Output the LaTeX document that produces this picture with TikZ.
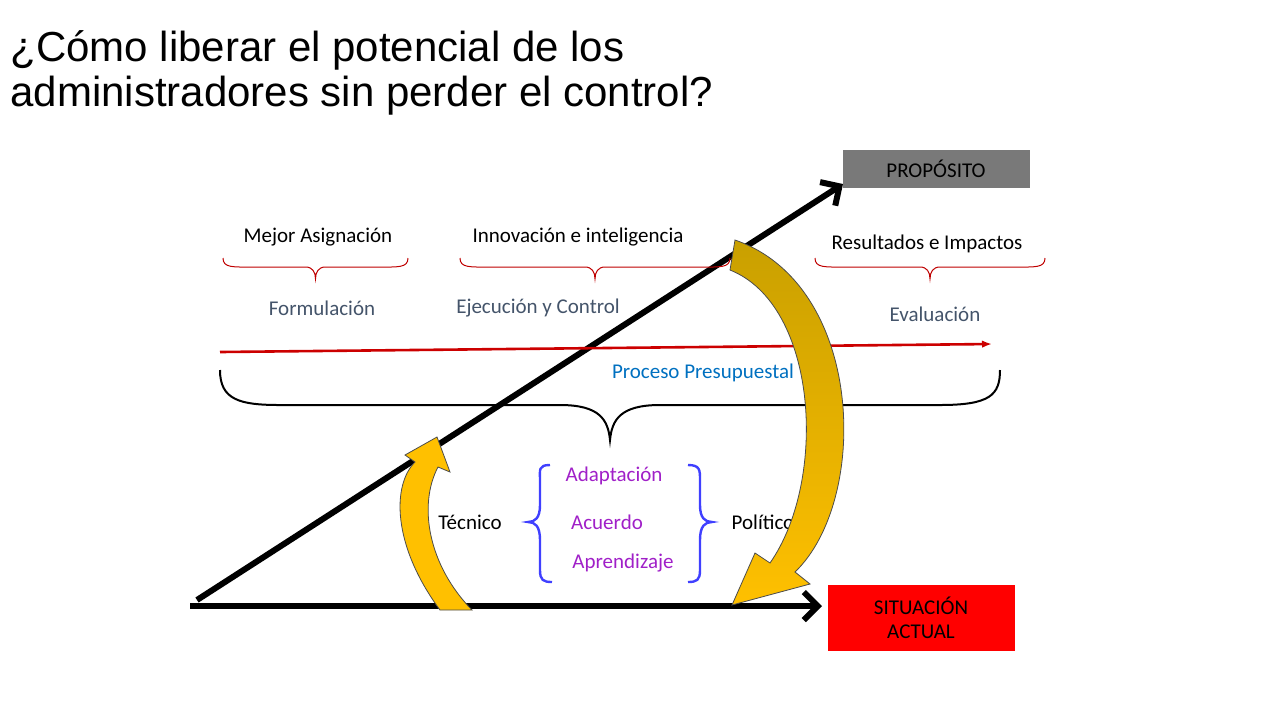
\documentclass[tikz,border=0pt]{standalone}
\usepackage{fontspec}
\setmainfont{Carlito}
\newfontfamily\titlefont{Liberation Sans}
\usetikzlibrary{arrows.meta,positioning}
\definecolor{gristexto}{HTML}{44546A}
\definecolor{azulproc}{HTML}{0070C0}
\definecolor{morado}{HTML}{A020C8}
\definecolor{oro}{HTML}{FFC000}
\definecolor{ororojo}{HTML}{C9A000}
\begin{document}
\begin{tikzpicture}[x=0.5pt,y=-0.5pt,
    etiqueta/.style={font=\fontsize{10.5}{12}\selectfont},
    fase/.style={etiqueta,text=gristexto},
    trampa/.style={etiqueta,text=morado},
    flecha/.style={line width=3pt,-{Straight Barb[length=7pt,width=14pt,line width=3pt]}},
    curva/.style={draw=black!70,line width=0.4pt}]
    \useasboundingbox (0,0) rectangle (1280,720);
    % titulo
    \node[anchor=north west,align=left,inner sep=0pt,font=\titlefont\fontsize{21}{22.5}\selectfont] (titulo) at (10,30)
        {¿Cómo liberar el potencial de los\\administradores sin perder el control?};
    % cajas
    \node[fill=gray!95!black,minimum width=93.5pt,minimum height=19pt,inner sep=0pt,etiqueta] (proposito) at (936,169) {PROPÓSITO};
    \node[fill=red,minimum width=93.5pt,minimum height=33pt,inner sep=0pt,align=center,etiqueta] (actual) at (921,618) {SITUACIÓN\\ACTUAL};
    % ejes
    \coordinate (origen) at (197,600);
    \coordinate (base) at (190,606);
    \draw[flecha] (origen) -- (843,184);
    \draw[flecha] (base) -- (822,606);
    % linea de tiempo
    \coordinate (inicio) at (220,352);
    \draw[red!80!black,line width=1.3pt,-{Latex[length=5pt]}] (inicio) -- (992,344);
    % llave grande
    \draw[line width=1pt] (220,370) .. controls (220,400) and (240,405) .. (280,405) -- (560,405)
        .. controls (600,405) and (608,420) .. (610,440) .. controls (612,420) and (620,405) .. (660,405)
        -- (940,405) .. controls (990,405) and (1000,395) .. (1000,370);
    % llaves rojas
    \foreach \a/\b in {223/408,460/730,815/1045}{
        \pgfmathsetmacro\m{(\a+\b)/2}
        \draw[red!75!black,line width=0.5pt] (\a,258) .. controls (\a,268) and (\a+10,267) .. (\a+30,267) -- (\m-10,267)
            .. controls (\m-3,267) and (\m,272) .. (\m,279) .. controls (\m,272) and (\m+3,267) .. (\m+10,267)
            -- (\b-30,267) .. controls (\b-10,267) and (\b,268) .. (\b,258);
    }
    % textos
    \node[etiqueta] (mejor) at (318,237) {Mejor Asignación};
    \node[etiqueta] (innova) at (578,237) {Innovación e inteligencia};
    \node[etiqueta] (result) at (927,244) {Resultados e Impactos};
    \node[fase] (formula) at (322,308) {Formulación};
    \node[fase] (ejecuta) at (538,308) {Ejecución y Control};
    \node[fase] (evalua) at (935,314) {Evaluación};
    \node[etiqueta,text=azulproc] (proceso) at (703,373) {Proceso Presupuestal};
    \node[etiqueta] (tecnico) at (470,522) {Técnico};
    \node[etiqueta] (politico) at (763,522) {Político};
    \node[trampa] (adapta) at (614,476) {Adaptación};
    \node[trampa] (acuerdo) at (607,522) {Acuerdo};
    \node[trampa] (aprende) at (623,563) {Aprendizaje};
    % llaves azules
    \draw[blue!75,line width=1.2pt] (550,465) .. controls (538,465) and (540,470) .. (540,480) -- (540,505)
        .. controls (540,518) and (535,522) .. (528,522) .. controls (535,522) and (540,526) .. (540,540)
        -- (540,570) .. controls (540,580) and (543,582) .. (552,582);
    \draw[blue!75,line width=1.2pt] (688,465) .. controls (700,465) and (700,470) .. (700,480) -- (700,505)
        .. controls (700,518) and (705,522) .. (712,522) .. controls (705,522) and (700,526) .. (700,540)
        -- (700,570) .. controls (700,580) and (697,582) .. (688,582);
    % flechas curvas
    \fill[oro,curva] (440,610) .. controls (392,545) and (392,485) .. (415,462) -- (405,455) -- (437,437)
        -- (450,472) -- (438,467) .. controls (418,505) and (428,565) .. (472,610) -- cycle;
    \shade[top color=ororojo,bottom color=oro,curva] (735,240) .. controls (865,285) and (870,500) .. (795,572)
        -- (810,584) -- (732,605) -- (755,553) -- (770,563) .. controls (828,480) and (818,305) .. (730,270) -- cycle;
\end{tikzpicture}
\end{document}
